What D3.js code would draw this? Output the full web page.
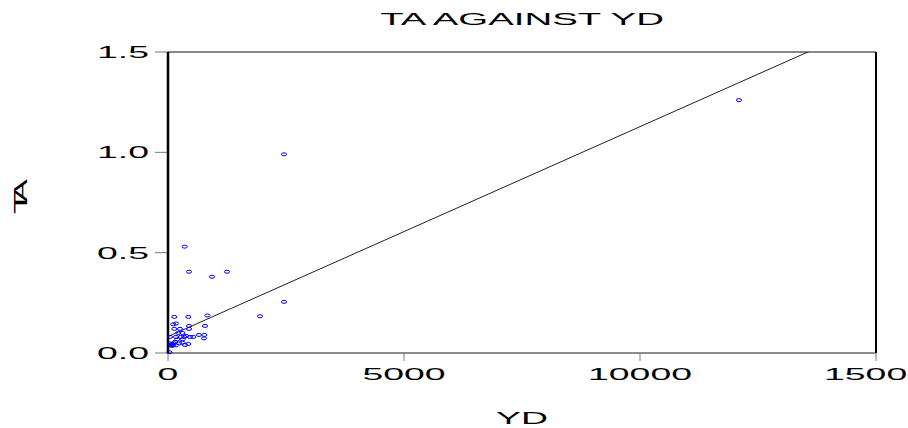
<!DOCTYPE html>
<html lang="en">
<head>
<meta charset="utf-8">
<title>TA against YD</title>
<script src="https://d3js.org/d3.v7.min.js"></script>
<style>
	body { margin: 0; background: #fff; }
	text { font-family: "Liberation Sans", Arial, sans-serif; fill: #000; }
</style>
</head>
<body>
<div id="chart"></div>
<script>

// data: YD (x) and TA (y)
var yd = [12097, 2458, 354, 445, 932, 1250, 2458, 1949, 133, 430, 833, 170, 112, 445, 784,
	133, 254, 445, 218, 303, 42, 170, 269, 345, 536, 657, 769, 763, 197, 311,
	42, 78, 127, 240, 303, 360, 430, 28, 78, 106, 170, 85, 148, 381, 466];
var ta = [1.26, 0.99, 0.53, 0.405, 0.38, 0.405, 0.255, 0.183, 0.18, 0.18, 0.187, 0.147, 0.143, 0.135, 0.135,
	0.12, 0.12, 0.12, 0.10, 0.10, 0.08, 0.08, 0.08, 0.08, 0.08, 0.09, 0.09, 0.073, 0.068, 0.068,
	0.048, 0.04, 0.048, 0.048, 0.052, 0.04, 0.045, 0.004, 0.035, 0.038, 0.038, 0.045, 0.055, 0.085, 0.08];

// fitted line TA = a + b*YD
var fitIntercept = 0.082;
var fitSlope = 0.0001046;

var xTicks = [0, 5000, 10000, 15000];
var yTicks = [0.0, 0.5, 1.0, 1.5];

var margin = { top: 52, right: 32, bottom: 75, left: 168 };
var W = 908, H = 428;
var width = W - margin.left - margin.right;
var height = H - margin.top - margin.bottom;

// the original uses a wide, stretched font everywhere
var fs = 17, stretch = 2.2;

var svg = d3.select("#chart").append("svg")
	.attr("width", W)
	.attr("height", H);

var g = svg.append("g")
	.attr("transform", "translate(" + margin.left + "," + margin.top + ")");

var x = d3.scaleLinear().domain([0, 15000]).range([0, width]);
var y = d3.scaleLinear().domain([0, 1.5]).range([height, 0]);

// title
svg.append("text")
	.attr("transform", "translate(" + (margin.left + width / 2) + ",25) scale(2.4,1)")
	.attr("text-anchor", "middle")
	.style("font-size", "16px")
	.text("TA AGAINST YD");

g.append("defs").append("clipPath")
	.attr("id", "clip")
	.append("rect")
	.attr("width", width)
	.attr("height", height);

// ticks
g.selectAll(".ytick").data(yTicks).enter().append("line")
	.attr("x1", -13).attr("x2", 0)
	.attr("y1", function (d) { return y(d); })
	.attr("y2", function (d) { return y(d); })
	.attr("stroke", "#777").attr("stroke-width", 1);

g.selectAll(".xtick").data(xTicks).enter().append("line")
	.attr("y1", height).attr("y2", height + 8)
	.attr("x1", function (d) { return x(d); })
	.attr("x2", function (d) { return x(d); })
	.attr("stroke", "#777").attr("stroke-width", 1);

// tick labels
g.selectAll(".ylab").data(yTicks).enter().append("text")
	.attr("transform", function (d) { return "translate(-19," + y(d) + ") scale(" + stretch + ",1)"; })
	.attr("text-anchor", "end")
	.attr("dy", "0.36em")
	.style("font-size", fs + "px")
	.text(function (d) { return d3.format(".1f")(d); });

g.selectAll(".xlab").data(xTicks).enter().append("text")
	.attr("transform", function (d) { return "translate(" + x(d) + "," + (height + 27) + ") scale(" + stretch + ",1)"; })
	.attr("text-anchor", "middle")
	.style("font-size", fs + "px")
	.text(function (d) { return d; });

// frame
g.append("line").attr("x1", 0).attr("x2", width).attr("y1", 0).attr("y2", 0)
	.attr("stroke", "#888").attr("stroke-width", 2);
g.append("line").attr("x1", 0).attr("x2", width).attr("y1", height).attr("y2", height)
	.attr("stroke", "#666").attr("stroke-width", 1.5);
g.append("line").attr("x1", 0).attr("x2", 0).attr("y1", 0).attr("y2", height)
	.attr("stroke", "#000").attr("stroke-width", 2.5);
g.append("line").attr("x1", width).attr("x2", width).attr("y1", 0).attr("y2", height)
	.attr("stroke", "#000").attr("stroke-width", 2);

// regression line
g.append("line")
	.attr("clip-path", "url(#clip)")
	.attr("x1", x(0)).attr("y1", y(fitIntercept))
	.attr("x2", x(15000)).attr("y2", y(fitIntercept + fitSlope * 15000))
	.attr("stroke", "#222").attr("stroke-width", 1);

// points
g.selectAll(".pt").data(d3.range(yd.length)).enter().append("ellipse")
	.attr("cx", function (i) { return x(yd[i]); })
	.attr("cy", function (i) { return y(ta[i]); })
	.attr("rx", 2.6).attr("ry", 1.5)
	.attr("fill", "none")
	.attr("stroke", "#0000ff")
	.attr("stroke-width", 1);

// x axis title
svg.append("text")
	.attr("transform", "translate(" + (margin.left + width / 2) + ",424) scale(" + stretch + ",1)")
	.attr("text-anchor", "middle")
	.style("font-size", fs + "px")
	.text("YD");

// y axis title: glyphs stretched but advance not, so T and A overlap
var yl = svg.append("g").attr("transform", "translate(27,214) rotate(-90)");
yl.append("text")
	.attr("transform", "translate(0,0) scale(2.1,1)")
	.style("font-size", "18px")
	.text("T");
yl.append("text")
	.attr("transform", "translate(12,0) scale(1.9,1)")
	.style("font-size", "18px")
	.text("A");

</script>
</body>
</html>
